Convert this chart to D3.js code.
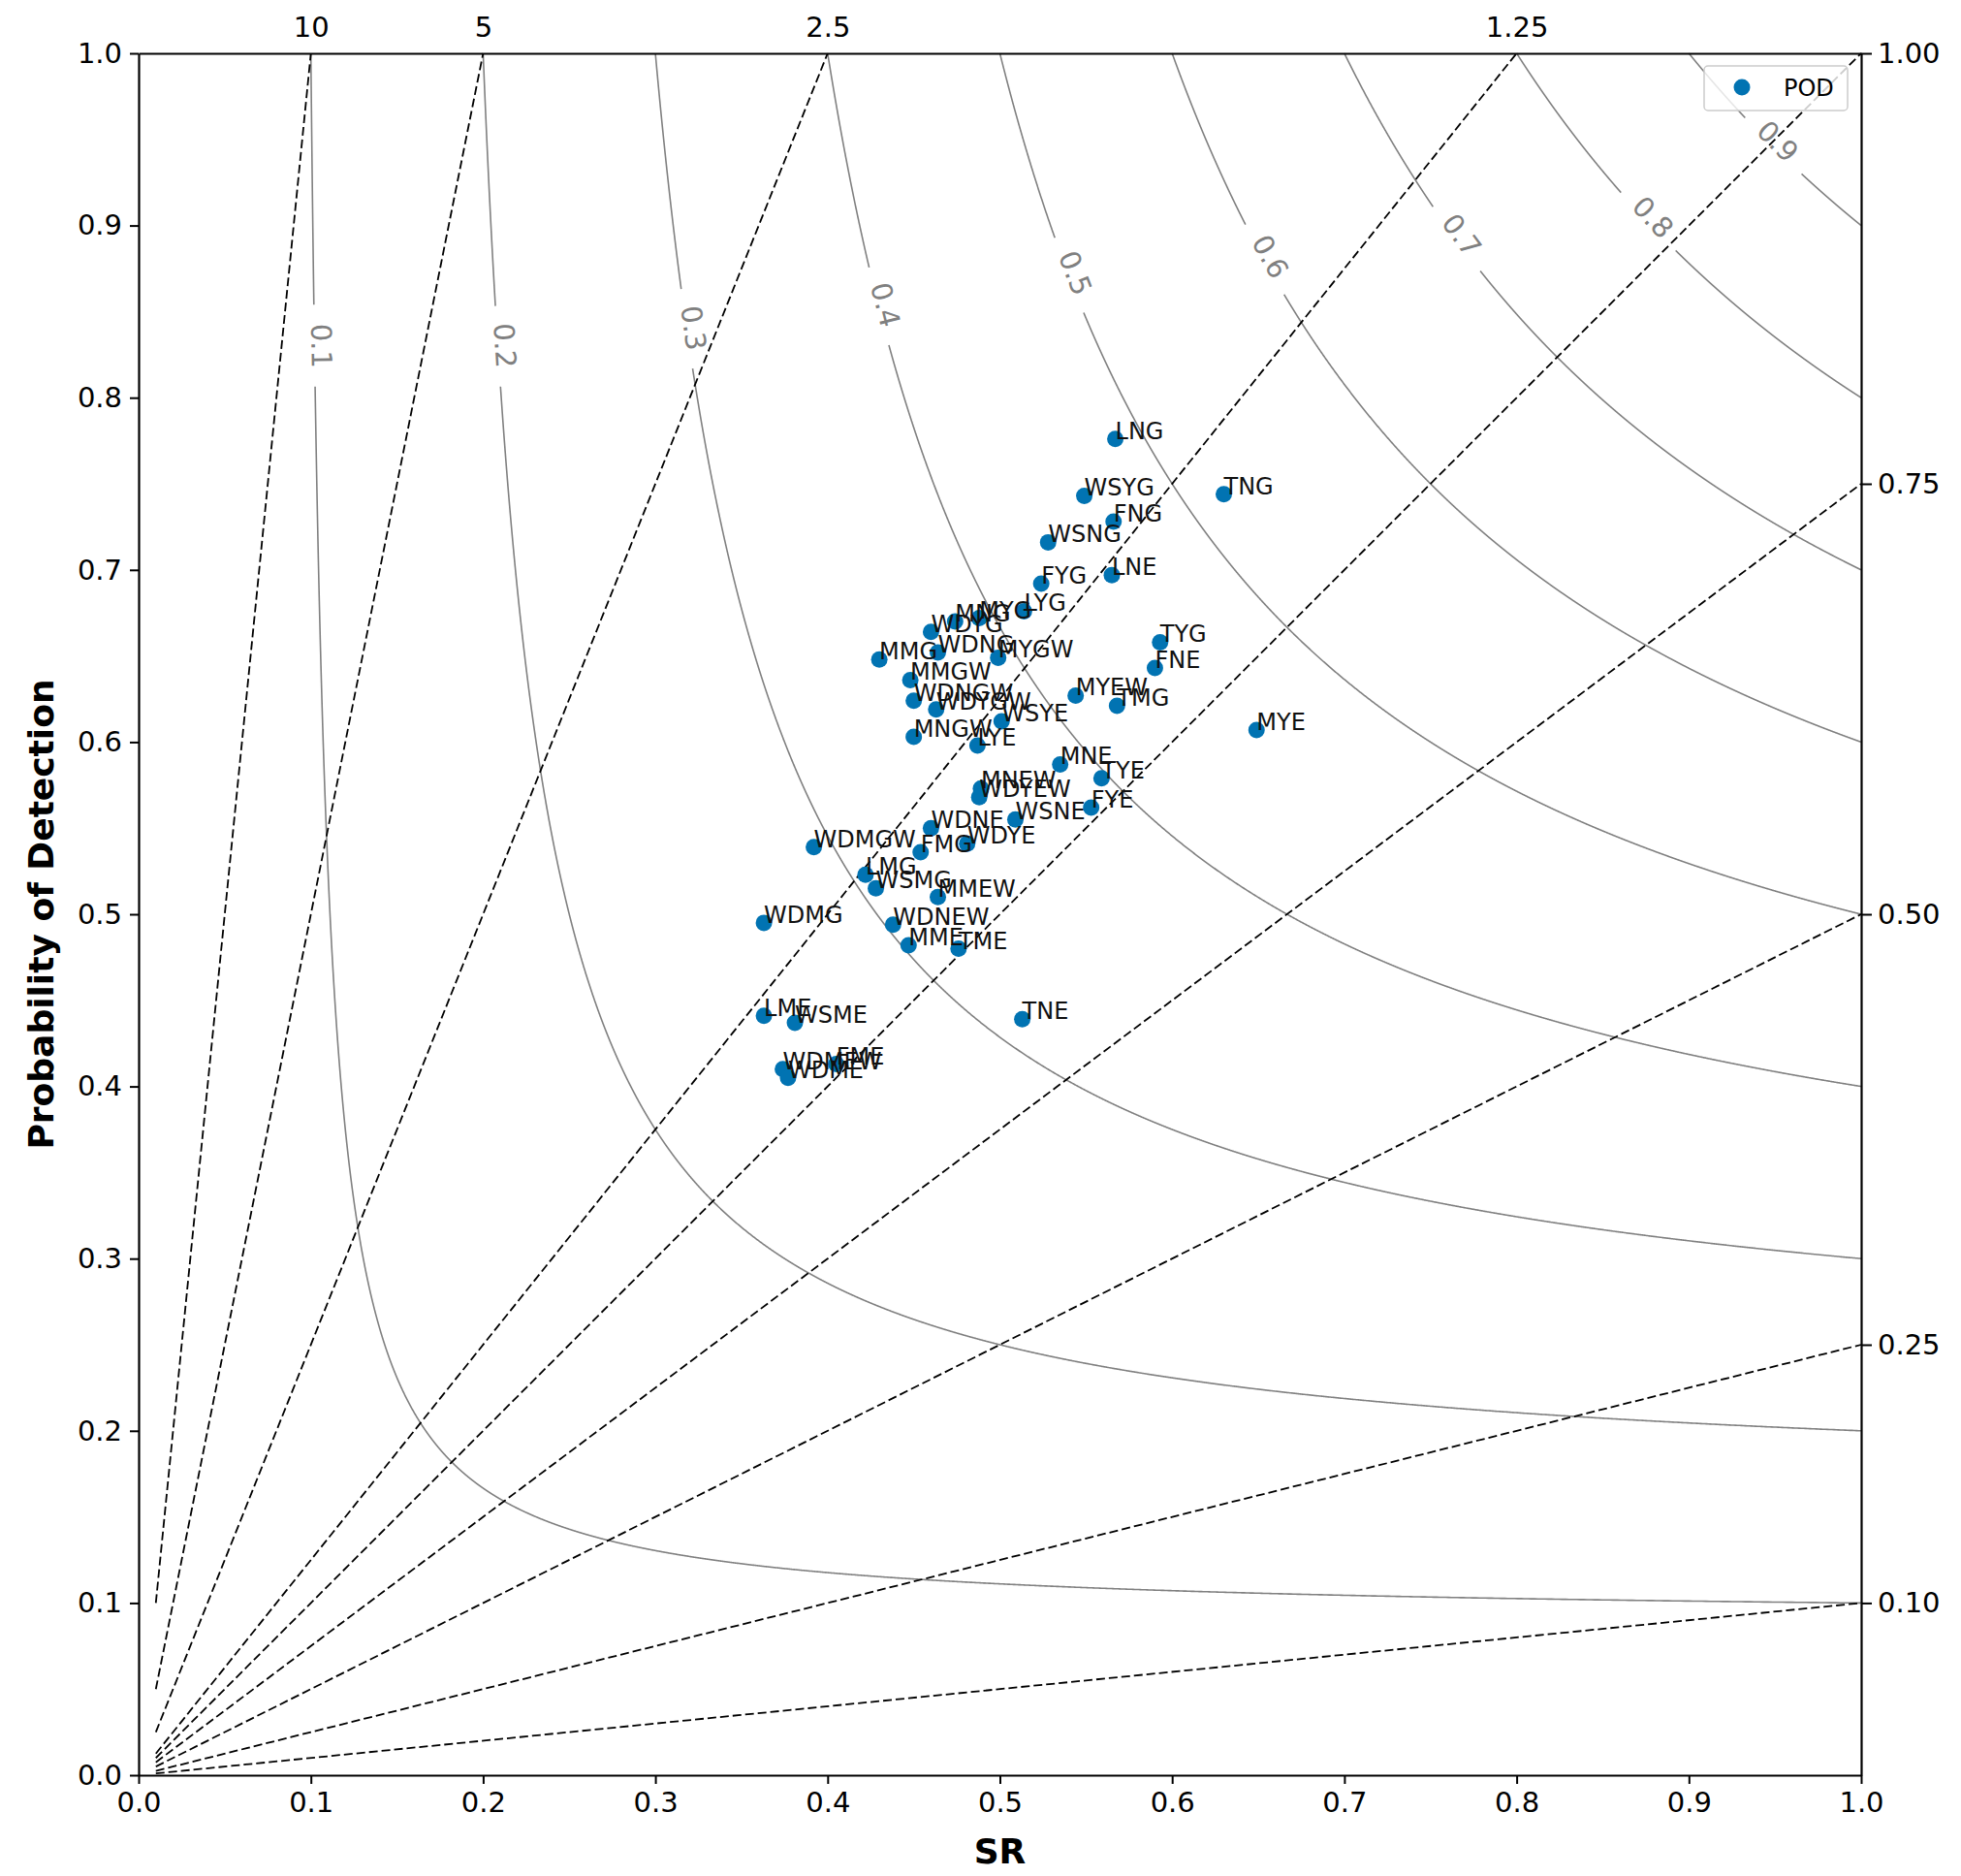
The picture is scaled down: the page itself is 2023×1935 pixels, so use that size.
<!DOCTYPE html>
<html>
<head>
<meta charset="utf-8">
<script src="https://cdn.jsdelivr.net/npm/d3@7"></script>
<style>
  body { margin: 0; background: #fff; }
  text { font-family: "DejaVu Sans", sans-serif; }
</style>
</head>
<body>
<svg id="canvas"></svg>
<script>
// forecast names, success ratio and probability of detection
let names = ['LNG', 'WSYG', 'TNG', 'FNG', 'WSNG', 'FYG', 'LNE', 'LYG', 'MNG', 'MYG',
  'WDYG', 'WDNG', 'MMG', 'MYGW', 'TYG', 'FNE', 'MMGW', 'WDNGW', 'WDYGW', 'MYEW',
  'TMG', 'WSYE', 'MYE', 'MNGW', 'LYE', 'MNE', 'TYE', 'MNEW', 'WDYEW', 'FYE',
  'WSNE', 'WDNE', 'WDYE', 'FMG', 'WDMGW', 'LMG', 'WSMG', 'MMEW', 'WDMG', 'WDNEW',
  'MME', 'TME', 'TNE', 'LME', 'WSME', 'FME', 'WDMEW', 'WDME']
let srValues = [0.567, 0.549, 0.630, 0.566, 0.528, 0.524, 0.565, 0.514, 0.474, 0.488,
  0.460, 0.464, 0.430, 0.499, 0.593, 0.590, 0.448, 0.450, 0.463, 0.544,
  0.568, 0.501, 0.649, 0.450, 0.487, 0.535, 0.559, 0.489, 0.488, 0.553,
  0.509, 0.460, 0.481, 0.454, 0.392, 0.422, 0.428, 0.464, 0.363, 0.438,
  0.447, 0.476, 0.513, 0.363, 0.381, 0.405, 0.374, 0.377]
let podValues = [0.776, 0.743, 0.744, 0.728, 0.716, 0.692, 0.697, 0.676, 0.670, 0.672,
  0.664, 0.652, 0.648, 0.649, 0.658, 0.643, 0.636, 0.624, 0.619, 0.627,
  0.621, 0.612, 0.607, 0.603, 0.598, 0.587, 0.579, 0.573, 0.568, 0.562,
  0.555, 0.550, 0.541, 0.536, 0.539, 0.523, 0.515, 0.510, 0.495, 0.494,
  0.482, 0.480, 0.439, 0.441, 0.437, 0.413, 0.410, 0.405]

// critical success index contours and where their labels sit (as POD)
let csiLevels = [0.1, 0.2, 0.3, 0.4, 0.5, 0.6, 0.7, 0.8, 0.9]
let csiLabelPod = [0.83, 0.83, 0.84, 0.853, 0.871, 0.88, 0.892, 0.902, 0.946]

// frequency bias lines
let biasLevels = [10, 5, 2.5, 1.25, 1, 0.75, 0.5, 0.25, 0.1]
let topTicks = [0.1, 0.2, 0.4, 0.8]
let topTickLabels = ['10', '5', '2.5', '1.25']
let rightTicks = [1, 0.75, 0.5, 0.25, 0.1]

let width = 2023
let height = 1935
let margin = {left: 143, top: 55, right: 103, bottom: 104}
let plotW = width - margin.left - margin.right
let plotH = height - margin.top - margin.bottom

let svg = d3.select('#canvas')
  .attr('width', width)
  .attr('height', height)

let xScale = d3.scaleLinear().domain([0, 1]).range([0, plotW])
let yScale = d3.scaleLinear().domain([0, 1]).range([plotH, 0])

let plot = svg.append('g')
  .attr('transform', 'translate(' + margin.left + ',' + margin.top + ')')

// CSI contours
let contourLayer = plot.append('g')
let gapRadius = 41

csiLevels.forEach((c, i) => {
  let k = 1 / c - 1
  let pts = d3.range(0, 3001).map((j) => {
    let t = j / 3000
    let sr = 1 / (1 + k * t)
    let pod = 1 / (1 + k * (1 - t))
    return [xScale(sr), yScale(pod)]
  })
  let labelPod = csiLabelPod[i]
  let labelSr = 1 / (1 / c + 1 - 1 / labelPod)
  let lx = xScale(labelSr)
  let ly = yScale(labelPod)

  let line = d3.line()
    .defined((p) => Math.hypot(p[0] - lx, p[1] - ly) > gapRadius)
  contourLayer.append('path')
    .attr('d', line(pts))
    .attr('fill', 'none')
    .attr('stroke', '#808080')
    .attr('stroke-width', 1.6)

  // tangent along the curve at the label
  let srA = labelSr - 0.002
  let srB = labelSr + 0.002
  let podAt = (sr) => 1 / (1 / c + 1 - 1 / sr)
  let dx = xScale(srB) - xScale(srA)
  let dy = yScale(podAt(srB)) - yScale(podAt(srA))
  let angle = Math.atan2(dy, dx) * 180 / Math.PI
  contourLayer.append('text')
    .attr('transform', 'translate(' + lx + ',' + ly + ') rotate(' + angle + ')')
    .attr('y', -7)
    .attr('text-anchor', 'middle')
    .attr('dominant-baseline', 'central')
    .attr('font-size', 29)
    .attr('fill', '#808080')
    .text(c.toFixed(1))
})

// frequency bias lines
let biasLayer = plot.append('g')
biasLevels.forEach((b) => {
  let srEnd = Math.min(1, 1 / b)
  biasLayer.append('line')
    .attr('x1', xScale(0.01))
    .attr('y1', yScale(0.01 * b))
    .attr('x2', xScale(srEnd))
    .attr('y2', yScale(srEnd * b))
    .attr('stroke', '#000')
    .attr('stroke-width', 1.8)
    .attr('stroke-dasharray', '9,4')
})

// axes
let tickVals = d3.range(0, 11).map((d) => d / 10)
let xAxis = d3.axisBottom(xScale).tickValues(tickVals).tickFormat(d3.format('.1f'))
  .tickSize(9).tickSizeOuter(0).tickPadding(8)
let yAxis = d3.axisLeft(yScale).tickValues(tickVals).tickFormat(d3.format('.1f'))
  .tickSize(9).tickSizeOuter(0).tickPadding(8)
let topAxis = d3.axisTop(xScale).tickValues(topTicks)
  .tickFormat((d, i) => topTickLabels[i]).tickSize(0).tickSizeOuter(0).tickPadding(17)
let rightAxis = d3.axisRight(yScale).tickValues(rightTicks).tickFormat(d3.format('.2f'))
  .tickSize(11).tickSizeOuter(0).tickPadding(6)

let styleAxis = (g) => {
  g.selectAll('path').attr('stroke', '#000').attr('stroke-width', 2.2)
  g.selectAll('line').attr('stroke', '#000').attr('stroke-width', 2)
  g.selectAll('text').attr('font-size', 29).attr('fill', '#000')
    .attr('font-family', '"DejaVu Sans", sans-serif')
}

plot.append('g').attr('transform', 'translate(0,' + plotH + ')').call(xAxis).call(styleAxis)
plot.append('g').call(yAxis).call(styleAxis)
plot.append('g').call(topAxis).call(styleAxis)
plot.append('g').attr('transform', 'translate(' + plotW + ',0)').call(rightAxis).call(styleAxis)

// points and their labels
let pointData = names.map((n, i) => ({name: n, sr: srValues[i], pod: podValues[i]}))

plot.selectAll('circle.pt')
  .data(pointData)
  .enter()
  .append('circle')
  .attr('class', 'pt')
  .attr('cx', (d) => xScale(d.sr))
  .attr('cy', (d) => yScale(d.pod))
  .attr('r', 8.5)
  .attr('fill', '#0173b2')

plot.selectAll('text.pt')
  .data(pointData)
  .enter()
  .append('text')
  .attr('class', 'pt')
  .attr('x', (d) => xScale(d.sr))
  .attr('y', (d) => yScale(d.pod))
  .attr('font-size', 24)
  .attr('fill', '#111')
  .text((d) => d.name)

// legend
let legend = plot.append('g')
  .attr('transform', 'translate(' + (plotW - 162) + ',13)')
legend.append('rect')
  .attr('width', 148)
  .attr('height', 46)
  .attr('rx', 4)
  .attr('fill', '#fff')
  .attr('fill-opacity', 0.8)
  .attr('stroke', '#cccccc')
  .attr('stroke-width', 1.5)
legend.append('circle')
  .attr('cx', 39)
  .attr('cy', 22)
  .attr('r', 8.5)
  .attr('fill', '#0173b2')
legend.append('text')
  .attr('x', 82)
  .attr('y', 31)
  .attr('font-size', 24)
  .text('POD')

// axis titles
svg.append('text')
  .attr('transform', 'translate(42,' + (margin.top + plotH / 2) + ') rotate(-90)')
  .attr('text-anchor', 'middle')
  .attr('dominant-baseline', 'central')
  .attr('font-size', 36)
  .attr('font-weight', 'bold')
  .text('Probability of Detection')

svg.append('text')
  .attr('x', margin.left + plotW / 2)
  .attr('y', 1922)
  .attr('text-anchor', 'middle')
  .attr('font-size', 36)
  .attr('font-weight', 'bold')
  .text('SR')
</script>
</body>
</html>
